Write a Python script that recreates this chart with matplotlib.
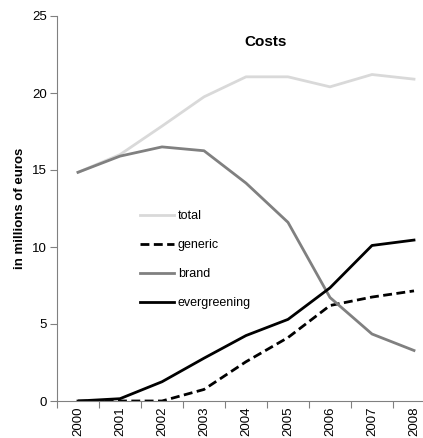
import matplotlib
matplotlib.use("Agg")
import matplotlib.pyplot as plt
from matplotlib.lines import Line2D

plt.rcParams['font.family'] = ['Liberation Sans', 'DejaVu Sans']

years = ["2000", "2001", "2002", "2003", "2004", "2005", "2006", "2007", "2008"]
total = [14.85, 16.0, 17.85, 19.75, 21.05, 21.05, 20.4, 21.2, 20.9]
generic = [0.0, 0.0, 0.0, 0.75, 2.55, 4.12, 6.2, 6.75, 7.15]
brand = [14.85, 15.9, 16.5, 16.25, 14.15, 11.6, 6.72, 4.35, 3.28]
evergreening = [0.0, 0.15, 1.25, 2.78, 4.25, 5.3, 7.35, 10.1, 10.45]
y_ticks = [0, 5, 10, 15, 20, 25]

W, H = 423, 438
fig = plt.figure(figsize=(W / 100, H / 100), dpi=100)
# plot area: left edge at x=57, spans beyond the right border like the export
left, right = 57, 435
top, bottom = 16, 401
ax = fig.add_axes([left / W, 1 - bottom / H, (right - left) / W, (bottom - top) / H])

x = list(range(len(years)))
lw = 2.0
ax.plot(x, total, color="#d9d9d9", lw=lw)
ax.plot(x, generic, color="black", lw=lw, ls=(0, (3.2, 1.6)))
ax.plot(x, brand, color="#808080", lw=lw)
ax.plot(x, evergreening, color="black", lw=lw)

ax.set_xlim(-0.5, len(years) - 0.5)
ax.set_ylim(0, 25)
ax.set_yticks(y_ticks)
ax.set_yticklabels([str(v) for v in y_ticks])

# category labels at centers, tick marks between categories
ax.set_xticks(x)
ax.set_xticklabels(years, rotation=90)
ax.set_xticks([i - 0.5 for i in range(len(years) + 1)], minor=True)
ax.tick_params(axis="x", which="major", length=0, pad=4)
ax.tick_params(axis="x", which="minor", length=5, width=0.8, color="#808080")
ax.tick_params(axis="y", length=5, width=0.8, color="#808080", pad=2.5)
ax.tick_params(labelsize=9.5, labelcolor="black")

for side in ("top", "right"):
    ax.spines[side].set_visible(False)
for side in ("left", "bottom"):
    ax.spines[side].set_color("#808080")
    ax.spines[side].set_linewidth(0.8)

ax.set_ylabel("in millions of euros", fontsize=9.5, fontweight="bold", labelpad=4)
fig.text(266 / W, 1 - 42 / H, "Costs", fontsize=11, fontweight="bold",
         ha="center", va="center")

handles = [
    Line2D([], [], color="#d9d9d9", lw=lw),
    Line2D([], [], color="black", lw=lw, ls=(0, (3.2, 1.6))),
    Line2D([], [], color="#808080", lw=lw),
    Line2D([], [], color="black", lw=lw),
]
leg = fig.legend(handles, ["total", "generic", "brand", "evergreening"],
                 loc="upper left", bbox_to_anchor=(134 / W, 1 - 204 / H),
                 frameon=False, fontsize=9, handlelength=2.7, handletextpad=0.3,
                 labelspacing=1.35, borderpad=0)

fig.savefig("out.png", dpi=100)
